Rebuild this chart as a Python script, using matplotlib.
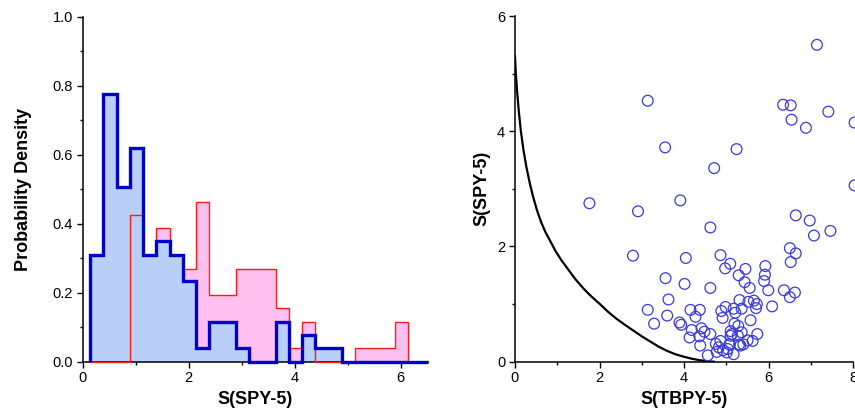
import matplotlib
matplotlib.use("Agg")
import matplotlib.pyplot as plt
from matplotlib.ticker import MultipleLocator, FormatStrFormatter

plt.rcParams['font.family'] = ['Liberation Sans', 'DejaVu Sans']

# ---- Left panel: histograms (probability density) ----
bin_edges = [0.14, 0.39, 0.64, 0.89, 1.14, 1.39, 1.64, 1.89, 2.14, 2.39, 2.64,
             2.89, 3.14, 3.39, 3.64, 3.89, 4.14, 4.39, 4.64, 4.89, 5.14, 5.39,
             5.64, 5.89, 6.14, 6.39, 6.52]
blue_density = [0.31, 0.775, 0.505, 0.62, 0.31, 0.35, 0.31, 0.233, 0.039, 0.116,
                0.116, 0.039, 0.0, 0.0, 0.116, 0.0, 0.078, 0.039, 0.039, 0.0,
                0.0, 0.0, 0.0, 0.0, 0.0, 0.0]
red_density = [0.0, 0.0, 0.0, 0.424, 0.31, 0.388, 0.31, 0.27, 0.463, 0.194,
               0.194, 0.27, 0.27, 0.27, 0.155, 0.039, 0.116, 0.0, 0.0, 0.0,
               0.039, 0.039, 0.039, 0.116, 0.0, 0.0]

# ---- Right panel: scatter S(TBPY-5) vs S(SPY-5) ----
s_tbpy = [3.14, 3.55, 4.71, 5.24, 6.34, 6.52, 6.54, 6.88, 7.14, 7.41, 8.03, 8.03,
          3.91, 1.76, 2.91, 4.62, 6.64, 6.97, 7.46, 7.07, 2.79, 4.04, 4.86, 5.09,
          4.97, 5.45, 5.29, 5.43, 5.92, 5.91, 5.89, 6.50, 6.64, 6.52, 3.56, 4.01,
          4.62, 5.55, 5.99, 6.36, 6.62, 6.50, 3.63, 5.31, 5.52, 5.65, 5.72, 6.08,
          3.14, 4.15, 4.37, 4.88, 4.98, 5.17, 5.36, 5.21, 5.70, 3.60, 4.27, 4.91,
          5.57, 3.29, 3.89, 3.93, 5.19, 5.28, 4.18, 4.41, 4.48, 5.10, 5.36, 5.73,
          4.13, 4.36, 4.62, 5.10, 5.27, 5.50, 5.62, 4.38, 4.75, 4.86, 4.82, 5.07,
          5.30, 5.40, 4.77, 4.92, 5.01, 4.56, 5.17, 5.03, 5.33, 5.13]
s_spy = [4.53, 3.72, 3.36, 3.69, 4.46, 4.45, 4.20, 4.06, 5.50, 4.34, 4.15, 3.06,
         2.80, 2.75, 2.61, 2.33, 2.54, 2.45, 2.27, 2.19, 1.84, 1.80, 1.85, 1.70,
         1.62, 1.61, 1.50, 1.38, 1.66, 1.51, 1.40, 1.97, 1.88, 1.73, 1.45, 1.35,
         1.28, 1.28, 1.24, 1.24, 1.20, 1.12, 1.08, 1.07, 1.04, 1.06, 1.00, 0.96,
         0.90, 0.90, 0.90, 0.88, 0.95, 0.92, 0.92, 0.85, 0.93, 0.80, 0.78, 0.76,
         0.72, 0.66, 0.68, 0.64, 0.66, 0.62, 0.55, 0.58, 0.52, 0.53, 0.51, 0.48,
         0.42, 0.44, 0.48, 0.45, 0.45, 0.37, 0.36, 0.28, 0.31, 0.36, 0.25, 0.30,
         0.30, 0.30, 0.17, 0.20, 0.16, 0.11, 0.13, 0.22, 0.28, 0.48]

# minimal-distortion path curve
path_x = [0.0, 0.02, 0.05, 0.09, 0.14, 0.20, 0.27, 0.35, 0.43, 0.52, 0.62, 0.72,
          0.83, 0.96, 1.09, 1.22, 1.42, 1.62, 1.81, 2.01, 2.21, 2.41, 2.60, 2.80,
          3.00, 3.20, 3.40, 3.59, 3.79, 3.99, 4.19, 4.38, 4.55, 4.70]
path_y = [5.30, 5.00, 4.70, 4.35, 4.00, 3.68, 3.38, 3.10, 2.86, 2.63, 2.42, 2.25,
          2.10, 1.92, 1.77, 1.64, 1.44, 1.27, 1.13, 1.00, 0.86, 0.74, 0.64, 0.54,
          0.44, 0.35, 0.26, 0.19, 0.13, 0.087, 0.05, 0.025, 0.008, 0.0]

fig = plt.figure(figsize=(8.55, 4.12), dpi=100)
ax1 = fig.add_axes([0.0967, 0.1221, 0.4042, 0.8374])
ax2 = fig.add_axes([0.6023, 0.1221, 0.3957, 0.8390])

blue_line = '#0000c8'
blue_fill = '#b9cff8'
red_line = '#ff1a1a'
red_fill = '#ffc0f0'

ax1.stairs(red_density, bin_edges, fill=True, color=red_fill, zorder=1)
ax1.stairs(blue_density, bin_edges, fill=True, color=blue_fill, zorder=2)
ax1.stairs(red_density, bin_edges, color=red_line, linewidth=1.0, zorder=3,
           clip_on=False)
ax1.stairs(blue_density, bin_edges, color=blue_line, linewidth=2.4, zorder=4,
           clip_on=False)

ax1.set_xlim(0, 6.52)
ax1.set_ylim(0, 1.0)
ax1.xaxis.set_major_locator(MultipleLocator(2))
ax1.xaxis.set_minor_locator(MultipleLocator(1))
ax1.yaxis.set_major_locator(MultipleLocator(0.2))
ax1.yaxis.set_minor_locator(MultipleLocator(0.1))
ax1.yaxis.set_major_formatter(FormatStrFormatter('%.1f'))
ax1.set_xlabel('S(SPY-5)', fontsize=13, fontweight='bold', labelpad=4)
ax1.set_ylabel('Probability Density', fontsize=13, fontweight='bold', labelpad=15)

ax2.plot(path_x, path_y, color='black', linewidth=1.6, zorder=2,
         solid_joinstyle='round')
ax2.scatter(s_tbpy, s_spy, s=60, facecolors='none', edgecolors='#3a3ad8',
            linewidths=0.9, zorder=3, clip_on=False)
ax2.set_xlim(0, 8)
ax2.set_ylim(0, 6)
ax2.xaxis.set_major_locator(MultipleLocator(2))
ax2.xaxis.set_minor_locator(MultipleLocator(1))
ax2.yaxis.set_major_locator(MultipleLocator(2))
ax2.yaxis.set_minor_locator(MultipleLocator(1))
ax2.set_xlabel('S(TBPY-5)', fontsize=13, fontweight='bold', labelpad=4)
ax2.set_ylabel('S(SPY-5)', fontsize=13, fontweight='bold', labelpad=5)

for ax in (ax1, ax2):
    ax.spines['top'].set_visible(False)
    ax.spines['right'].set_visible(False)
    ax.spines['left'].set_linewidth(1.1)
    ax.spines['bottom'].set_linewidth(1.1)
    ax.tick_params(which='major', direction='out', length=4, width=1.0,
                   labelsize=10.5, pad=3)
    ax.tick_params(which='minor', direction='out', length=2.5, width=1.0)

fig.savefig('out.png', dpi=100)
